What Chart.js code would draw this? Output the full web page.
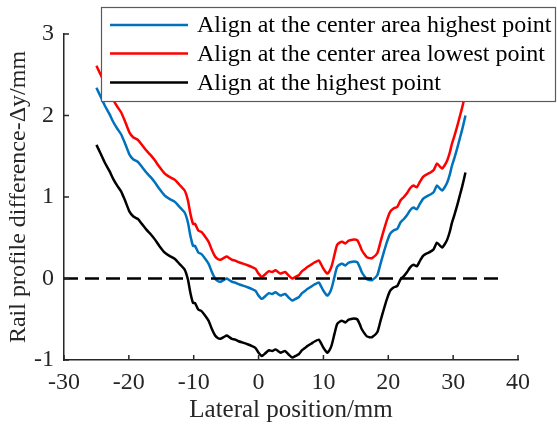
<!DOCTYPE html>
<html>
<head>
<meta charset="utf-8">
<script src="https://cdn.jsdelivr.net/npm/chart.js@4"></script>
<style>
  html, body { margin: 0; padding: 0; background: #fff; }
  #c { display: block; }
</style>
</head>
<body>
<canvas id="c" width="557" height="425"></canvas>
<script>
// Lateral positions (mm) shared by the three profile difference curves
const lateral = [-25.0,-24.4,-23.7,-23.0,-22.4,-21.8,-21.2,-20.6,-19.9,-19.3,-18.6,-18.0,-17.3,-16.6,-16.0,-15.3,-14.5,-13.8,-12.9,-12.2,
  -11.4,-10.9,-10.5,-10.1,-9.8,-9.3,-8.8,-8.2,-7.7,-7.2,-6.7,-6.3,-5.9,-5.4,-4.9,-4.5,-4.1,-3.6,-3.1,-2.3,
  -1.6,-1.0,-0.5,0.0,0.5,1.0,1.6,2.1,2.6,3.0,3.4,3.7,4.1,4.6,5.2,5.7,6.2,6.7,7.2,7.5,
  8.1,8.7,9.3,9.6,10.0,10.6,11.0,11.3,11.7,12.1,12.5,12.9,13.4,13.8,14.1,14.7,15.2,15.6,15.9,16.3,
  16.7,17.1,17.5,18.3,18.8,19.3,19.8,20.3,20.8,21.4,21.9,22.4,22.9,23.4,23.9,24.4,24.9,25.4,26.0,26.5,
  27.0,27.5,28.0,28.3,28.7,29.1,29.5,29.8,30.2,30.6,31.0,31.4,31.9];

// Δy (mm) aligned at the center area highest point
const centerHighest = [2.34,2.24,2.12,2.02,1.92,1.84,1.77,1.66,1.52,1.46,1.43,1.37,1.30,1.24,1.18,1.10,1.02,0.98,0.94,0.88,
  0.81,0.69,0.52,0.40,0.40,0.32,0.30,0.24,0.18,0.08,0.00,-0.03,-0.04,-0.02,0.00,-0.02,-0.04,-0.05,-0.07,-0.09,
  -0.11,-0.13,-0.15,-0.21,-0.25,-0.22,-0.18,-0.19,-0.17,-0.19,-0.21,-0.20,-0.19,-0.23,-0.27,-0.25,-0.23,-0.18,-0.15,-0.13,
  -0.10,-0.07,-0.05,-0.09,-0.15,-0.21,-0.17,-0.11,0.02,0.14,0.17,0.18,0.16,0.19,0.20,0.21,0.20,0.14,0.08,0.03,
  -0.01,-0.02,-0.02,0.04,0.18,0.32,0.45,0.55,0.59,0.61,0.69,0.73,0.78,0.84,0.87,0.85,0.92,0.98,1.01,1.03,
  1.06,1.14,1.10,1.08,1.12,1.18,1.28,1.38,1.48,1.59,1.71,1.83,2.00];

// Δy (mm) aligned at the center area lowest point
const centerLowest = [2.61,2.51,2.39,2.29,2.19,2.11,2.04,1.93,1.79,1.73,1.70,1.64,1.57,1.51,1.45,1.37,1.29,1.25,1.21,1.15,
  1.08,0.96,0.79,0.67,0.67,0.59,0.57,0.51,0.45,0.35,0.27,0.24,0.23,0.25,0.27,0.25,0.23,0.22,0.20,0.18,
  0.16,0.14,0.12,0.06,0.02,0.05,0.09,0.08,0.10,0.08,0.06,0.07,0.08,0.04,0.00,0.02,0.04,0.09,0.12,0.14,
  0.17,0.20,0.22,0.18,0.12,0.06,0.10,0.16,0.29,0.41,0.44,0.45,0.43,0.46,0.47,0.48,0.47,0.41,0.35,0.30,
  0.26,0.25,0.25,0.31,0.45,0.59,0.72,0.82,0.86,0.88,0.96,1.00,1.05,1.11,1.14,1.12,1.19,1.25,1.28,1.30,
  1.33,1.41,1.37,1.35,1.39,1.45,1.55,1.65,1.75,1.86,1.98,2.10,2.27];

// Δy (mm) aligned at the highest point
const highest = [1.64,1.54,1.42,1.32,1.22,1.14,1.07,0.96,0.82,0.76,0.73,0.67,0.60,0.54,0.48,0.40,0.32,0.28,0.24,0.18,
  0.11,-0.01,-0.18,-0.30,-0.30,-0.38,-0.40,-0.46,-0.52,-0.62,-0.70,-0.73,-0.74,-0.72,-0.70,-0.72,-0.74,-0.75,-0.77,-0.79,
  -0.81,-0.83,-0.85,-0.91,-0.95,-0.92,-0.88,-0.89,-0.87,-0.89,-0.91,-0.90,-0.89,-0.93,-0.97,-0.95,-0.93,-0.88,-0.85,-0.83,
  -0.80,-0.77,-0.75,-0.79,-0.85,-0.91,-0.87,-0.81,-0.68,-0.56,-0.53,-0.52,-0.54,-0.51,-0.50,-0.49,-0.50,-0.56,-0.62,-0.67,
  -0.71,-0.72,-0.72,-0.66,-0.52,-0.38,-0.25,-0.15,-0.11,-0.09,-0.01,0.03,0.08,0.14,0.17,0.15,0.22,0.28,0.31,0.33,
  0.36,0.44,0.40,0.38,0.42,0.48,0.58,0.68,0.78,0.89,1.01,1.13,1.30];

// Zero reference line
const zeroLineX = [-30, 37.3];
const zeroLineY = [0, 0];

const seriesNames = [
  'Align at the center area highest point',
  'Align at the center area lowest point',
  'Align at the highest point'
];
const seriesColors = ['#0072BD', '#FF0000', '#000000'];

const xTicks = [-30, -20, -10, 0, 10, 20, 30, 40];
const yTicks = [-1, 0, 1, 2, 3];

const FONT = "'Liberation Serif', 'Times New Roman', serif";
const AXIS_COLOR = '#262626';

const toPoints = (xs, ys) => xs.map((x, i) => ({ x, y: ys[i] }));

// Ticks drawn pointing into the plot area
const insideTicks = {
  id: 'insideTicks',
  afterDatasetsDraw(chart) {
    const { ctx, chartArea, scales } = chart;
    ctx.save();
    ctx.strokeStyle = AXIS_COLOR;
    ctx.lineWidth = 1.5;
    ctx.beginPath();
    xTicks.forEach(v => {
      const px = scales.x.getPixelForValue(v);
      ctx.moveTo(px, chartArea.bottom);
      ctx.lineTo(px, chartArea.bottom - 5);
    });
    yTicks.forEach(v => {
      const py = scales.y.getPixelForValue(v);
      ctx.moveTo(chartArea.left, py);
      ctx.lineTo(chartArea.left + 5, py);
    });
    ctx.stroke();
    ctx.restore();
  }
};

// Framed legend with white fill, laid over the upper part of the plot
const boxedLegend = {
  id: 'boxedLegend',
  afterDraw(chart) {
    const { ctx } = chart;
    const box = { left: 101, top: 7, right: 556, bottom: 102 };
    ctx.save();
    ctx.fillStyle = '#ffffff';
    ctx.fillRect(box.left, box.top, box.right - box.left, box.bottom - box.top);
    ctx.strokeStyle = '#5a5a5a';
    ctx.lineWidth = 1.2;
    ctx.strokeRect(box.left + 0.5, box.top + 0.5, box.right - box.left - 1, box.bottom - box.top - 1);
    const rows = [25, 53.5, 82.5];
    ctx.font = `24px ${FONT}`;
    ctx.textBaseline = 'middle';
    ctx.textAlign = 'left';
    seriesNames.forEach((name, i) => {
      ctx.strokeStyle = seriesColors[i];
      ctx.lineWidth = 2.5;
      ctx.beginPath();
      ctx.moveTo(110, rows[i]);
      ctx.lineTo(188, rows[i]);
      ctx.stroke();
      ctx.fillStyle = '#000000';
      ctx.fillText(name, 197, rows[i] + 1);
    });
    ctx.restore();
  }
};

new Chart(document.getElementById('c'), {
  type: 'line',
  data: {
    datasets: [
      {
        label: 'zero',
        data: toPoints(zeroLineX, zeroLineY),
        borderColor: '#000000',
        borderWidth: 2.5,
        borderDash: [14, 7],
        pointRadius: 0,
        tension: 0
      },
      {
        label: seriesNames[0],
        data: toPoints(lateral, centerHighest),
        borderColor: seriesColors[0],
        borderWidth: 2.5,
        pointRadius: 0,
        tension: 0.2
      },
      {
        label: seriesNames[1],
        data: toPoints(lateral, centerLowest),
        borderColor: seriesColors[1],
        borderWidth: 2.5,
        pointRadius: 0,
        tension: 0.2
      },
      {
        label: seriesNames[2],
        data: toPoints(lateral, highest),
        borderColor: seriesColors[2],
        borderWidth: 2.5,
        pointRadius: 0,
        tension: 0.2
      }
    ]
  },
  options: {
    responsive: false,
    animation: false,
    clip: false,
    layout: { padding: { left: 0, right: 39, top: 34, bottom: 0 } },
    plugins: {
      legend: { display: false },
      tooltip: { enabled: false }
    },
    scales: {
      x: {
        type: 'linear',
        min: -30,
        max: 40,
        afterBuildTicks: s => { s.ticks = xTicks.map(v => ({ value: v })); },
        afterFit: s => { s.height = 65; },
        grid: { display: false, drawTicks: false },
        border: { display: true, color: AXIS_COLOR, width: 1.5 },
        ticks: { color: AXIS_COLOR, font: { family: FONT, size: 24 }, padding: 8, maxRotation: 0 },
        title: {
          display: true,
          text: 'Lateral position/mm',
          color: AXIS_COLOR,
          font: { family: FONT, size: 25 },
          padding: { top: 0, bottom: 0 }
        }
      },
      y: {
        type: 'linear',
        min: -1,
        max: 3,
        afterBuildTicks: s => { s.ticks = yTicks.map(v => ({ value: v })); },
        afterFit: s => { s.width = 64; },
        grid: { display: false, drawTicks: false },
        border: { display: true, color: AXIS_COLOR, width: 1.5 },
        ticks: { color: AXIS_COLOR, font: { family: FONT, size: 24 }, padding: 10 },
        title: {
          display: true,
          text: 'Rail profile difference-Δy/mm',
          color: AXIS_COLOR,
          font: { family: FONT, size: 24 },
          padding: { top: 4, bottom: 0 }
        }
      }
    }
  },
  plugins: [insideTicks, boxedLegend]
});
</script>
</body>
</html>
